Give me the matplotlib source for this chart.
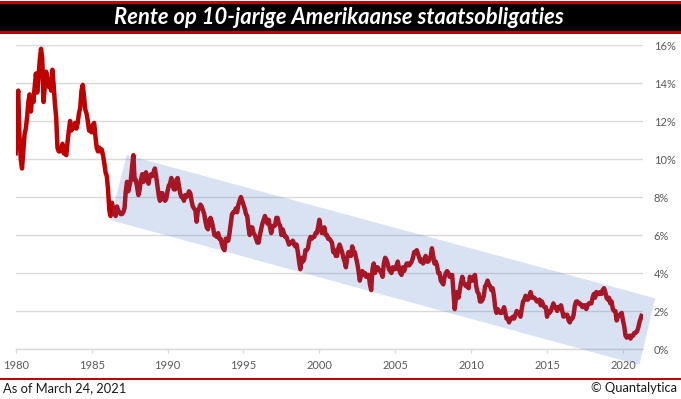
import numpy as np
import matplotlib
matplotlib.use("Agg")
import matplotlib.pyplot as plt
from matplotlib.patches import Rectangle, Polygon

# 10-jarige rente, maandelijks (Jan 1980 - Mrt 2021)
yields_by_year = {
    1980: [10.3, 13.0, 13.6, 11.2, 10.0, 9.5, 10.4, 11.3, 11.6, 12.2, 13.0, 13.4],
    1981: [12.5, 13.3, 13.0, 13.8, 14.5, 13.5, 14.3, 15.2, 15.8, 15.3, 13.0, 13.8],
    1982: [14.6, 14.3, 13.8, 13.9, 13.6, 14.7, 13.9, 12.9, 12.2, 10.6, 10.4, 10.4],
    1983: [10.5, 10.8, 10.3, 10.3, 10.2, 10.9, 11.5, 12.0, 11.5, 11.6, 11.7, 11.9],
    1984: [11.6, 11.9, 12.4, 12.7, 13.6, 13.9, 13.3, 12.6, 12.4, 12.0, 11.5, 11.5],
    1985: [11.4, 11.8, 11.9, 11.2, 10.6, 10.4, 10.6, 10.4, 10.5, 10.2, 9.8, 9.3],
    1986: [9.1, 8.4, 7.3, 7.0, 7.7, 7.4, 7.1, 7.0, 7.5, 7.3, 7.2, 7.1],
    1987: [7.1, 7.2, 7.4, 8.3, 8.8, 8.3, 8.6, 8.9, 9.6, 10.2, 8.9, 8.9],
    1988: [8.5, 8.1, 8.4, 8.9, 9.2, 8.8, 9.1, 9.3, 8.9, 8.7, 9.1, 9.2],
    1989: [9.1, 9.3, 9.5, 9.1, 8.6, 8.1, 7.8, 8.2, 8.2, 7.9, 7.8, 7.9],
    1990: [8.3, 8.6, 8.7, 9.0, 8.6, 8.4, 8.4, 8.9, 9.0, 8.6, 8.2, 8.0],
    1991: [8.0, 7.8, 8.1, 8.0, 8.1, 8.3, 8.2, 7.8, 7.5, 7.4, 7.3, 6.7],
    1992: [7.3, 7.4, 7.6, 7.5, 7.3, 7.1, 6.7, 6.4, 6.3, 6.8, 6.9, 6.7],
    1993: [6.4, 6.0, 6.0, 5.9, 6.1, 5.8, 5.8, 5.5, 5.3, 5.2, 5.8, 5.8],
    1994: [5.7, 6.1, 6.6, 7.1, 7.2, 7.2, 7.4, 7.2, 7.6, 7.8, 8.0, 7.8],
    1995: [7.6, 7.4, 7.1, 7.0, 6.4, 6.0, 6.4, 6.4, 6.1, 6.0, 5.8, 5.6],
    1996: [5.6, 6.0, 6.3, 6.6, 6.8, 7.0, 6.8, 6.6, 6.8, 6.4, 6.1, 6.4],
    1997: [6.5, 6.5, 6.9, 6.9, 6.6, 6.5, 6.0, 6.3, 6.1, 5.9, 5.9, 5.7],
    1998: [5.5, 5.6, 5.6, 5.7, 5.5, 5.4, 5.5, 5.1, 4.6, 4.2, 4.8, 4.6],
    1999: [4.7, 5.2, 5.2, 5.3, 5.7, 5.9, 5.8, 5.9, 5.9, 6.1, 6.1, 6.4],
    2000: [6.8, 6.4, 6.1, 6.2, 6.4, 6.0, 6.0, 5.8, 5.8, 5.7, 5.6, 5.1],
    2001: [5.2, 4.9, 4.9, 5.3, 5.5, 5.3, 5.1, 4.8, 4.6, 4.3, 4.8, 5.1],
    2002: [5.0, 4.9, 5.4, 5.1, 5.1, 4.8, 4.5, 4.1, 3.6, 3.9, 4.1, 3.9],
    2003: [4.0, 3.8, 3.9, 3.9, 3.4, 3.1, 4.2, 4.5, 4.0, 4.3, 4.3, 4.2],
    2004: [4.1, 4.0, 3.8, 4.5, 4.8, 4.7, 4.5, 4.2, 4.1, 4.0, 4.3, 4.2],
    2005: [4.2, 4.4, 4.6, 4.2, 4.0, 3.9, 4.3, 4.1, 4.3, 4.5, 4.5, 4.4],
    2006: [4.5, 4.6, 4.8, 5.1, 5.1, 5.2, 5.0, 4.8, 4.6, 4.7, 4.5, 4.7],
    2007: [4.9, 4.6, 4.6, 4.7, 4.9, 5.3, 4.9, 4.5, 4.6, 4.4, 4.0, 4.0],
    2008: [3.6, 3.5, 3.4, 3.8, 4.0, 4.1, 4.0, 3.8, 3.8, 3.9, 3.0, 2.1],
    2009: [2.7, 3.0, 2.7, 3.1, 3.5, 3.8, 3.5, 3.4, 3.3, 3.4, 3.2, 3.8],
    2010: [3.6, 3.6, 3.8, 3.9, 3.3, 3.0, 2.9, 2.5, 2.5, 2.6, 2.8, 3.3],
    2011: [3.4, 3.6, 3.4, 3.3, 3.1, 3.2, 2.8, 2.2, 1.9, 2.1, 2.0, 1.9],
    2012: [1.9, 2.0, 2.2, 1.9, 1.6, 1.6, 1.4, 1.6, 1.6, 1.7, 1.6, 1.8],
    2013: [2.0, 1.9, 1.9, 1.7, 2.1, 2.5, 2.6, 2.8, 2.6, 2.6, 2.8, 3.0],
    2014: [2.7, 2.7, 2.7, 2.6, 2.5, 2.5, 2.6, 2.3, 2.5, 2.3, 2.2, 2.2],
    2015: [1.7, 2.0, 1.9, 2.0, 2.2, 2.4, 2.2, 2.2, 2.0, 2.2, 2.2, 2.3],
    2016: [2.0, 1.7, 1.8, 1.8, 1.8, 1.5, 1.4, 1.6, 1.6, 1.8, 2.3, 2.5],
    2017: [2.5, 2.4, 2.4, 2.3, 2.2, 2.3, 2.3, 2.1, 2.3, 2.4, 2.4, 2.4],
    2018: [2.7, 2.9, 2.7, 3.0, 2.9, 2.9, 3.0, 2.9, 3.1, 3.2, 3.0, 2.7],
    2019: [2.6, 2.7, 2.4, 2.5, 2.1, 2.0, 2.0, 1.5, 1.7, 1.8, 1.8, 1.9],
    2020: [1.5, 1.2, 0.7, 0.6, 0.65, 0.7, 0.55, 0.7, 0.7, 0.85, 0.85, 0.92],
    2021: [1.1, 1.4, 1.74],
}

# trendkanaal (hoekpunten: jaar, rente)
channel_years = [1987.31, 2022.12, 2021.08, 1986.21]
channel_rates = [10.21, 2.67, -0.84, 6.79]

x_ticks = [1980, 1985, 1990, 1995, 2000, 2005, 2010, 2015, 2020]
y_ticks = [0, 2, 4, 6, 8, 10, 12, 14, 16]

title = "Rente op 10-jarige Amerikaanse staatsobligaties"
footer_left = "As of March 24, 2021"
footer_right = "\u00a9 Quantalytica"

# build series
rates = []
dates = []
for yr, vals in yields_by_year.items():
    for m, v in enumerate(vals):
        dates.append(yr + m / 12)
        rates.append(v)
dates[-1] = 2021.22

W, H = 681, 399
fig = plt.figure(figsize=(W / 100, H / 100), dpi=100)
plt.rcParams["font.family"] = ["Lato", "DejaVu Sans"]

# title bar
fig.patches.append(Rectangle((0, 1 - 33.5 / H), 1, 32.5 / H, transform=fig.transFigure,
                             facecolor="#c00000", edgecolor="none"))
fig.patches.append(Rectangle((0, 1 - 30.7 / H), 1, 27.2 / H, transform=fig.transFigure,
                             facecolor="black", edgecolor="none"))
fig.text(0.497, 1 - 17.5 / H, title, color="white", fontsize=15.8, fontweight="bold",
         fontstyle="italic", ha="center", va="center")

ax = fig.add_axes([15.7 / W, 50 / H, 627 / W, 304 / H])
ax.plot(dates, rates, color="#c00000", lw=3.2, solid_joinstyle="round", zorder=3)

band = Polygon(list(zip(channel_years, channel_rates)), closed=True,
               facecolor=(68 / 255, 114 / 255, 196 / 255, 0.2), edgecolor="none",
               zorder=5, clip_on=False)
ax.add_patch(band)

ax.set_xlim(1980, 2021.3)
ax.set_ylim(0, 16)
ax.set_xticks(x_ticks)
ax.set_xticklabels([str(t) for t in x_ticks])
ax.set_yticks(y_ticks)
ax.set_yticklabels([f"{t}%" for t in y_ticks])
ax.yaxis.tick_right()
ax.grid(axis="y", color="#d9d9d9", lw=1)
ax.set_axisbelow(True)
for s in ["top", "left", "right"]:
    ax.spines[s].set_visible(False)
ax.spines["bottom"].set_color("#d9d9d9")
ax.spines["bottom"].set_linewidth(1)
ax.tick_params(axis="y", length=0, pad=8, labelsize=8, labelcolor="#595959")
ax.tick_params(axis="x", length=3, width=1, color="#d9d9d9", pad=5,
               labelsize=8, labelcolor="#595959")
for lbl in ax.get_yticklabels():
    lbl.set_horizontalalignment("left")

# footer
fig.patches.append(Rectangle((0, 1 - 380 / H), 1, 2.3 / H, transform=fig.transFigure,
                             facecolor="#c00000", edgecolor="none"))
fig.text(3 / W, 1 - 388.5 / H, footer_left, fontsize=9.3, color="#1a1a1a",
         ha="left", va="center")
fig.text(677 / W, 1 - 388.5 / H, footer_right, fontsize=9.3, color="#1a1a1a",
         ha="right", va="center")

fig.savefig("out.png", dpi=100)
